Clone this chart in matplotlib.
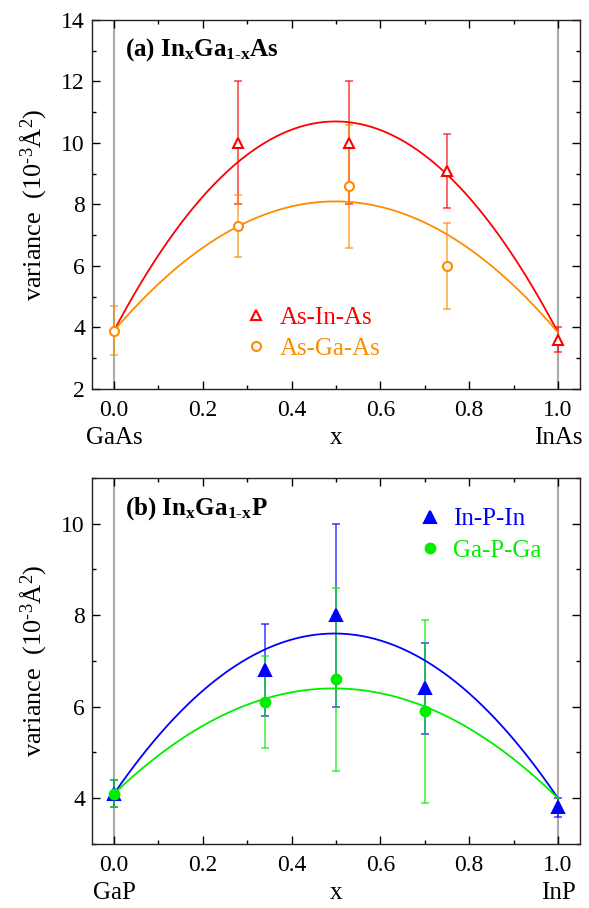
import numpy as np
import matplotlib
matplotlib.use("Agg")
import matplotlib.pyplot as plt
from matplotlib.ticker import MultipleLocator

plt.rcParams["font.family"] = ["Liberation Serif", "DejaVu Serif"]
plt.rcParams["mathtext.fontset"] = "custom"
plt.rcParams["mathtext.rm"] = "Liberation Serif"
plt.rcParams["mathtext.it"] = "Liberation Serif:italic"
plt.rcParams["mathtext.bf"] = "Liberation Serif:bold"

# --- (a) InGaAs ---
x_inas = [0.28, 0.53, 0.75, 1.0]
v_asinas = [10.0, 10.0, 9.1, 3.6]
e_asinas = [2.0, 2.0, 1.2, 0.4]
x_gaas = [0.0, 0.28, 0.53, 0.75]
v_asgaas = [3.9, 7.3, 8.6, 6.0]
e_asgaas = [0.8, 1.0, 2.0, 1.4]
# quadratic fits: value at x=0, x=0.5, x=1
fit_asinas = [3.9, 10.7, 3.84]
fit_asgaas = [3.9, 8.1, 3.84]

# --- (b) InGaP ---
x_inp = [0.0, 0.34, 0.5, 0.7, 1.0]
v_inpin = [4.1, 6.8, 8.0, 6.4, 3.8]
e_inpin = [0.3, 1.0, 2.0, 1.0, 0.2]
x_gap = [0.0, 0.34, 0.5, 0.7]
v_gapga = [4.1, 6.1, 6.6, 5.9]
e_gapga = [0.3, 1.0, 2.0, 2.0]
fit_inpin = [4.1, 7.6, 4.0]
fit_gapga = [4.1, 6.4, 4.0]

RED, ORANGE, BLUE, GREEN = "#ff0000", "#ff8c00", "#0000ff", "#00ee00"


def parabola(ax, vals, color):
    c = np.polyfit([0.0, 0.5, 1.0], vals, 2)
    xs = np.linspace(0, 1, 200)
    ax.plot(xs, np.polyval(c, xs), color=color, lw=1.3, zorder=3)


def series(ax, x, y, e, color, marker, filled, label):
    ax.errorbar(x, y, yerr=e, fmt="none", ecolor=color, elinewidth=1.2,
                capsize=3.2, capthick=1.2, alpha=0.7, zorder=2)
    if marker == "^":
        ms = 8 if filled else 7.5
    else:
        ms = 7 if filled else 6.5
    ax.plot(x, y, ls="none", marker=marker, ms=ms,
            mec=color, mfc=color if filled else "white", mew=1.5,
            label=label, zorder=4)


def style_axes(ax, ylim, left_name, right_name):
    ax.set_xlim(-0.05, 1.05)
    ax.set_ylim(*ylim)
    ax.axvline(0, color="#aaaaaa", lw=1.5, zorder=1)
    ax.axvline(1, color="#aaaaaa", lw=1.5, zorder=1)
    ax.xaxis.set_major_locator(MultipleLocator(0.2))
    ax.xaxis.set_minor_locator(MultipleLocator(0.1))
    ax.yaxis.set_major_locator(MultipleLocator(2))
    ax.yaxis.set_minor_locator(MultipleLocator(1))
    ax.tick_params(which="both", direction="in", top=True, right=True,
                   labelsize=17, width=1.0)
    ax.tick_params(which="major", length=6)
    ax.tick_params(which="minor", length=3)
    ax.tick_params(axis="x", which="major", pad=8)
    ax.tick_params(axis="y", which="major", pad=5)
    ax.xaxis.set_major_formatter(plt.FuncFormatter(lambda v, p: f"{v:.1f}"))
    for s in ax.spines.values():
        s.set_linewidth(1.0)
        s.set_color("#222222")
    ax.set_ylabel(r"variance  (10$^{\text{-}3}$Å$^{2}$)", fontsize=19, labelpad=9)
    # composition names and axis name share one row under the tick labels
    for xv, name in [(0, left_name), (0.5, "x"), (1, right_name)]:
        ax.annotate(name, xy=(xv, 0), xycoords=("data", "axes fraction"),
                    xytext=(0, -49), textcoords="offset pixels",
                    ha="center", va="center", fontsize=18)


fig = plt.figure(figsize=(5.89, 9.08), dpi=100)
ax1 = fig.add_axes([0.156, 0.5716, 0.829, 0.4064])
ax2 = fig.add_axes([0.156, 0.0705, 0.829, 0.4031])

# panel (a)
parabola(ax1, fit_asinas, RED)
parabola(ax1, fit_asgaas, ORANGE)
series(ax1, x_inas, v_asinas, e_asinas, RED, "^", False, "As-In-As")
series(ax1, x_gaas, v_asgaas, e_asgaas, ORANGE, "o", False, "As-Ga-As")
style_axes(ax1, (2, 14), "GaAs", "InAs")
ax1.text(0.068, 0.955, r"(a) In$_{\mathbf{x}}$Ga$_{\mathbf{1\text{-}x}}$As",
         transform=ax1.transAxes, ha="left", va="top", fontsize=18,
         fontweight="bold")
leg1 = ax1.legend(loc="upper left", bbox_to_anchor=(0.26, 0.285), frameon=False,
                  fontsize=18, handletextpad=0.35, labelspacing=0.35,
                  handlelength=1.2)
for t, c in zip(leg1.get_texts(), [RED, ORANGE]):
    t.set_color(c)

# panel (b)
parabola(ax2, fit_inpin, BLUE)
parabola(ax2, fit_gapga, GREEN)
series(ax2, x_inp, v_inpin, e_inpin, BLUE, "^", True, "In-P-In")
series(ax2, x_gap, v_gapga, e_gapga, GREEN, "o", True, "Ga-P-Ga")
style_axes(ax2, (3, 11), "GaP", "InP")
ax2.text(0.068, 0.954, r"(b) In$_{\mathbf{x}}$Ga$_{\mathbf{1\text{-}x}}$P",
         transform=ax2.transAxes, ha="left", va="top", fontsize=18,
         fontweight="bold")
leg2 = ax2.legend(loc="upper left", bbox_to_anchor=(0.615, 0.98), frameon=False,
                  fontsize=18, handletextpad=0.35, labelspacing=0.35,
                  handlelength=1.2)
for t, c in zip(leg2.get_texts(), [BLUE, GREEN]):
    t.set_color(c)

fig.savefig("out.png", dpi=100)
